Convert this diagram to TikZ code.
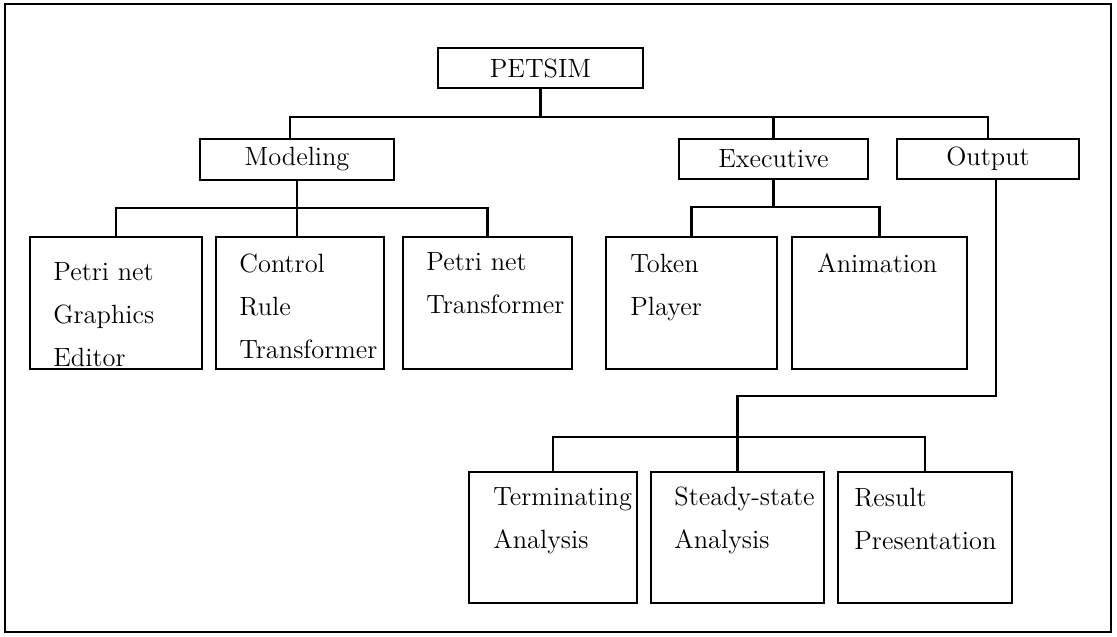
\documentclass[tikz,border=0pt]{standalone}
\begin{document}
\begin{tikzpicture}[x=0.5pt,y=-0.5pt,
  box/.style n args={2}{draw, line width=1.05pt, minimum width=#1*0.5pt,
    minimum height=#2*0.5pt, inner sep=0pt, font=\fontsize{13.2}{16}\selectfont},
  txt/.style={anchor=base west, inner sep=0pt, text width=95pt, align=left,
    font=\fontsize{13.2}{21.5}\selectfont},
  link/.style={line width=1.05pt}]
\useasboundingbox (0,0) rectangle (1117,636);
\draw[line width=0.75pt] (5,4) rectangle (1111,632);

% top levels
\node[box={205}{40}] (petsim) at (540.5,68) {PETSIM};
\node[box={194}{41}] (modeling) at (297,159.5) {Modeling};
\node[box={189}{40}] (executive) at (773.5,159) {Executive};
\node[box={182}{40}] (output) at (988,159) {Output};

% modeling components
\node[box={172}{132}] (pge) at (116,303) {};
\node[box={168}{132}] (crt) at (300,303) {};
\node[box={169}{132}] (prt) at (487.5,303) {};
% executive components
\node[box={171}{132}] (token) at (691.5,303) {};
\node[box={175}{132}] (anim) at (879.5,303) {};
% output components
\node[box={168}{131}] (term) at (553,537.5) {};
\node[box={173}{131}] (steady) at (737.5,537.5) {};
\node[box={174}{131}] (result) at (925,537.5) {};

% box texts
\node[txt] (pgeT) at (53,280) {Petri net\\Graphics\\Editor};
\node[txt] (crtT) at (239,272) {Control\\Rule\\Transformer};
\node[txt] (prtT) at (426,270) {Petri net\\Transformer};
\node[txt] (tokenT) at (630,272) {Token\\Player};
\node[txt] (animT) at (817,272) {Animation};
\node[txt] (termT) at (493,505) {Terminating\\Analysis};
\node[txt] (steadyT) at (674,505) {Steady-state\\Analysis};
\node[txt] (resultT) at (854,506) {Result\\Presentation};

% bus coordinates
\coordinate (topbar) at (540.5,117);
\coordinate (mbar) at (297,208);
\coordinate (ebar) at (773.5,207);
\coordinate (obar) at (737.5,396);
\coordinate (abar) at (737.5,437);

% PETSIM to first level
\draw[link] (petsim.south) -- (topbar);
\draw[link] ([xshift=-3.5pt]modeling.north) |- (topbar) -| (output.north);
\draw[link] (executive.north) -- (executive.north |- topbar);

% modeling branch
\draw[link] (modeling.south) -- (mbar);
\draw[link] (pge.north) |- (mbar) -| (prt.north);
\draw[link] (mbar) -- (mbar |- crt.north);

% executive branch
\draw[link] (executive.south) -- (ebar);
\draw[link] (token.north) |- (ebar) -| (anim.north);

% output branch
\draw[link] ([xshift=4pt]output.south) |- (obar) -- (steady.north);
\draw[link] (term.north) |- (abar) -| (result.north);
\end{tikzpicture}
\end{document}
